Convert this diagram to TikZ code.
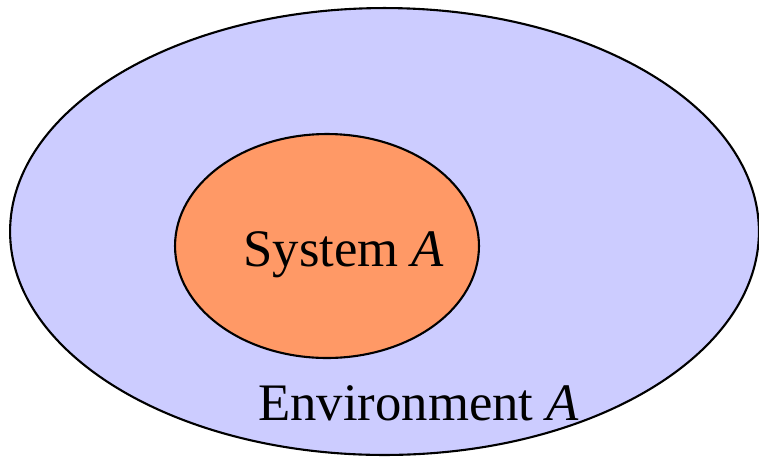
\documentclass[tikz,border=0pt]{standalone}
\usepackage{fontspec}
\setmainfont{Liberation Serif}
\usetikzlibrary{shapes.geometric, positioning}
\definecolor{envblue}{HTML}{CCCCFF}
\definecolor{sysorange}{HTML}{FF9966}

\begin{document}
\begin{tikzpicture}[
    x=0.02cm, y=-0.02cm,
    region style/.style={ellipse, draw=black, line width=1.2pt, inner sep=0pt},
    label style/.style={anchor=base west, inner sep=0pt, font=\fontsize{30}{36}\selectfont},
]
    \useasboundingbox (0,0) rectangle (759,457);

    % Regions
    \node[region style, fill=envblue, minimum width=14.98cm, minimum height=8.94cm] (env) at (384.5,231.5) {};
    \node[region style, fill=sysorange, minimum width=6.08cm, minimum height=4.48cm] (sys) at (327,246) {};

    % Labels
    \node[label style] (syslabel) at (243,266) {System \textit{A}};
    \node[label style] (envlabel) at (258,420) {Environment \textit{A}};

\end{tikzpicture}
\end{document}
